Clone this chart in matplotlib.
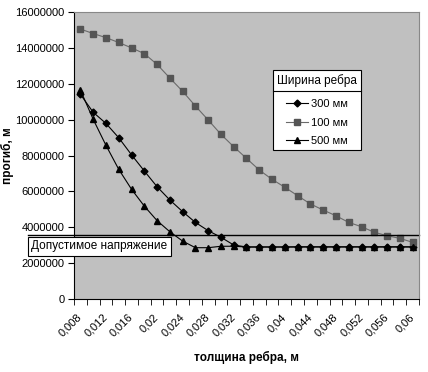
import matplotlib
matplotlib.use("Agg")
import matplotlib.pyplot as plt
import numpy as np
from matplotlib.lines import Line2D
from matplotlib.ticker import FixedLocator

# thickness categories, m
thickness = [0.008, 0.010, 0.012, 0.014, 0.016, 0.018, 0.020, 0.022, 0.024,
             0.026, 0.028, 0.030, 0.032, 0.034, 0.036, 0.038, 0.040, 0.042,
             0.044, 0.046, 0.048, 0.050, 0.052, 0.054, 0.056, 0.058, 0.060]

w300 = [11410000, 10410000, 9790000, 8990000, 8040000, 7140000, 6260000,
        5520000, 4870000, 4270000, 3810000, 3440000, 3010000, 2900000,
        2900000, 2900000, 2900000, 2910000, 2910000, 2910000, 2910000,
        2910000, 2910000, 2910000, 2910000, 2910000, 2910000]
w100 = [15050000, 14800000, 14570000, 14300000, 14000000, 13680000, 13080000,
        12320000, 11580000, 10760000, 9980000, 9180000, 8490000, 7840000,
        7190000, 6670000, 6230000, 5760000, 5300000, 4960000, 4640000,
        4270000, 4030000, 3720000, 3530000, 3380000, 3160000]
w500 = [11650000, 10020000, 8570000, 7230000, 6120000, 5180000, 4370000,
        3750000, 3230000, 2860000, 2860000, 2940000, 2940000, 2900000,
        2900000, 2900000, 2900000, 2900000, 2900000, 2900000, 2900000,
        2900000, 2900000, 2900000, 2900000, 2900000, 2900000]

allowed = 3570000

plt.rcParams["font.family"] = ["Liberation Sans", "DejaVu Sans"]

fig = plt.figure(figsize=(4.28, 3.72), dpi=100)
ax = fig.add_axes([74 / 428, 1 - 299 / 372, 345 / 428, 287 / 372])
ax.set_facecolor("#c0c0c0")

x = np.arange(len(thickness))
ax.plot(x, w300, color="black", lw=0.8, marker="D", ms=3.5, label="300 мм")
ax.plot(x, w100, color="#6a6a6a", lw=0.8, marker="s", ms=4,
        mfc="#555555", mec="#555555", label="100 мм")
ax.plot(x, w500, color="black", lw=0.8, marker="^", ms=4.5, label="500 мм")

ax.set_xlim(-0.5, len(thickness) - 0.5)
ax.set_ylim(0, 16000000)
yticks = np.arange(0, 16000001, 2000000)
ax.set_yticks(yticks)
ax.set_yticklabels([f"{int(v)}" for v in yticks], fontsize=8)

ax.set_xticks(x[::2])
ax.set_xticklabels([f"{t:g}".replace(".", ",") for t in thickness[::2]],
                   rotation=45, ha="right", va="center", rotation_mode="anchor",
                   fontsize=8)
ax.xaxis.set_minor_locator(FixedLocator(np.arange(-0.5, len(thickness), 1)))
ax.tick_params(axis="x", which="major", length=0, pad=12)
ax.tick_params(axis="x", which="minor", length=4, direction="out")
ax.tick_params(axis="y", length=4, direction="out", pad=3)

for side in ("top", "right"):
    ax.spines[side].set_color("#888888")
ax.spines["left"].set_color("black")
ax.spines["bottom"].set_color("black")

# allowed-stress line with its caption box
ax.axhline(allowed, xmin=-0.133, xmax=1.0, color="black", lw=1.0, clip_on=False)
ax.text(0.074, 0.184, "Допустимое напряжение", transform=ax.transAxes,
        ha="center", va="center", fontsize=8.5,
        bbox=dict(boxstyle="square,pad=0.3", fc="white", ec="black", lw=0.8))

ax.set_ylabel("прогиб, м", fontweight="bold", fontsize=8.5)
ax.yaxis.set_label_coords(-0.174, 0.5)
ax.set_xlabel("толщина ребра, м", fontweight="bold", fontsize=8.5)
ax.xaxis.set_label_coords(0.499, -0.18)

leg = ax.legend(title="Ширина ребра", loc="upper left",
                bbox_to_anchor=(273 / 428, 1 - 70 / 372),
                bbox_transform=fig.transFigure, frameon=True, fancybox=False,
                edgecolor="black", facecolor="white", framealpha=1,
                fontsize=8, title_fontsize=8.5, handlelength=2.0,
                handletextpad=0.2, borderpad=0.35, labelspacing=0.75,
                borderaxespad=0)
leg.get_frame().set_linewidth(0.8)
leg._legend_box.sep = 9

fig.canvas.draw()
tb = leg.get_title().get_window_extent()
fb = leg.get_frame().get_window_extent()
ysep = tb.y0 - 4
fig.add_artist(Line2D([fb.x0 / fig.bbox.width, fb.x1 / fig.bbox.width],
                      [ysep / fig.bbox.height, ysep / fig.bbox.height],
                      color="black", lw=0.8, transform=fig.transFigure))

fig.savefig("out.png", dpi=100)
